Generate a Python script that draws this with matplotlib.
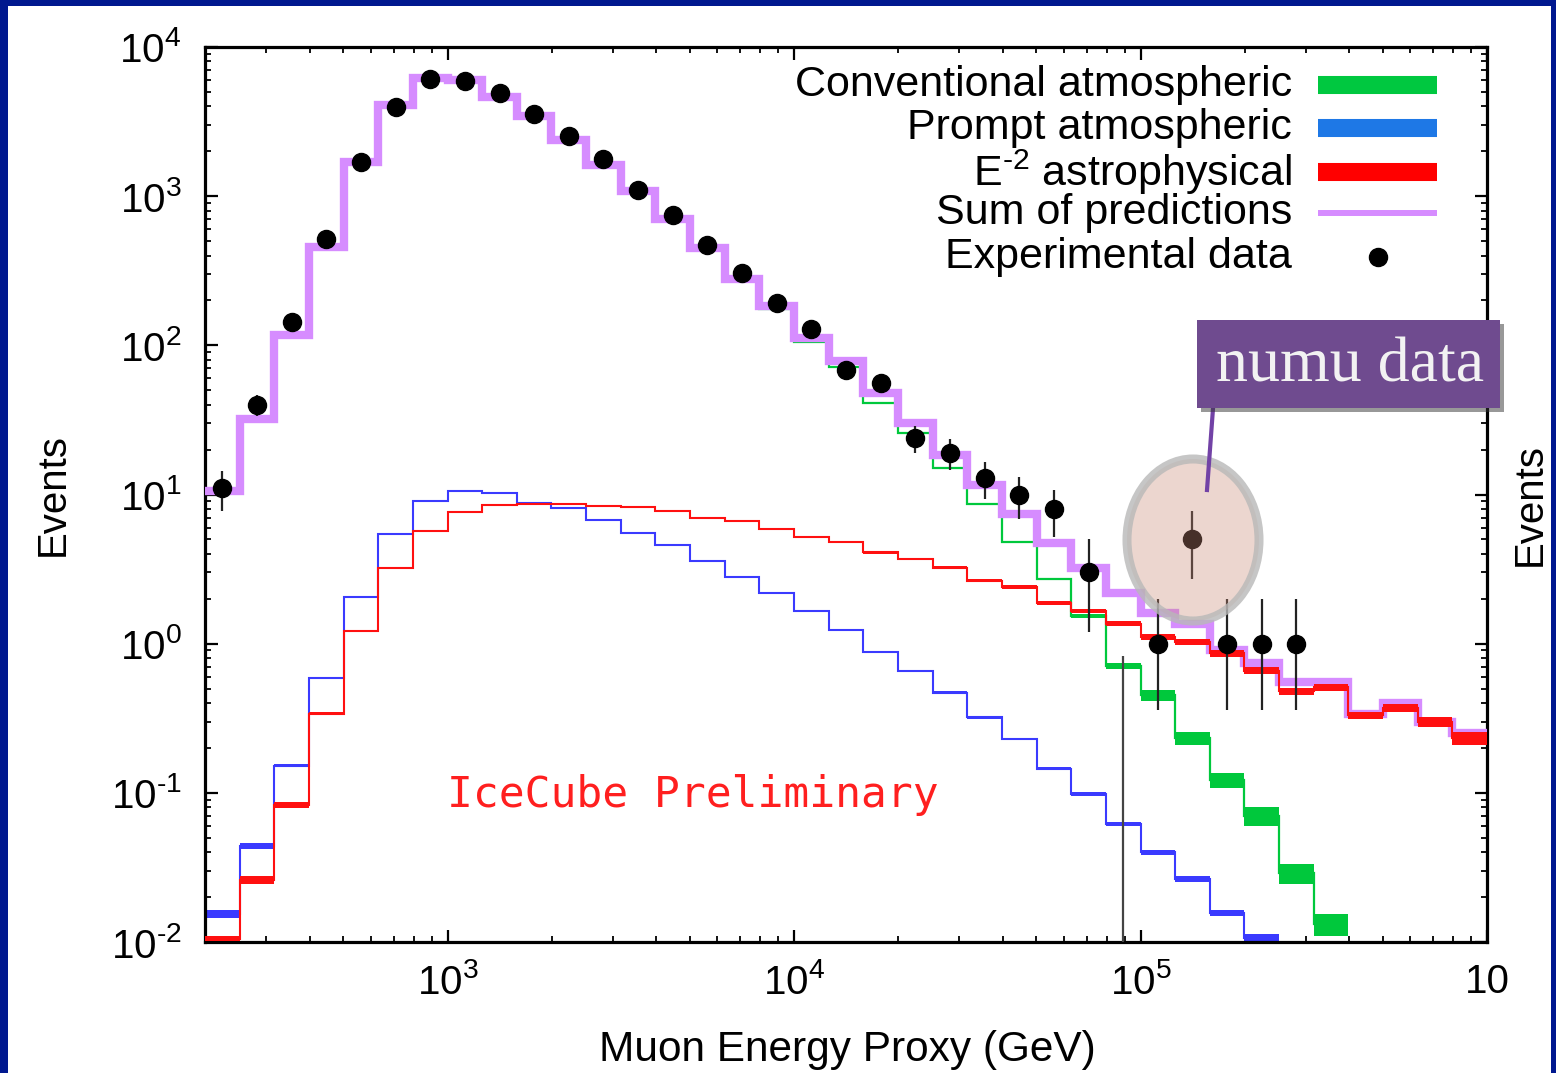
import matplotlib
matplotlib.use("Agg")
import matplotlib.pyplot as plt
import numpy as np
from matplotlib.patches import Ellipse, Rectangle
from matplotlib.lines import Line2D
from matplotlib.ticker import LogLocator, NullFormatter

plt.rcParams['font.family'] = 'Liberation Sans'
plt.rcParams['mathtext.fontset'] = 'custom'
plt.rcParams['mathtext.rm'] = 'Liberation Sans'
plt.rcParams['mathtext.it'] = 'Liberation Sans:italic'

## Data. Bins are 0.1 wide in log10(E/GeV), from 10^2.3 to 10^6.
edges = 10 ** np.arange(2.3, 6.05, 0.1)
centers = np.sqrt(edges[:-1] * edges[1:])

sum_pred = [10.6, 32, 117, 455, 1690, 4070, 6200,
            6000, 4600, 3450, 2380, 1620, 1080, 700, 450, 280, 183,
            112, 78, 48, 30, 18.3, 11.5, 7.4, 4.7, 3.2, 2.2,
            1.6, 1.36, 0.9, 0.74, 0.55, 0.55, 0.34, 0.40, 0.30, 0.25]

conventional = [10.6, 32, 117, 454, 1687, 4060, 6185,
                5982, 4582, 3433, 2364, 1605, 1066, 688, 440, 271, 175,
                105, 72, 41, 26, 15, 8.6, 4.8, 2.7, 1.54, 0.71,
                0.45, 0.234, 0.122, 0.070, 0.029, 0.0132, np.nan, np.nan, np.nan, np.nan]

prompt = [0.0155, 0.044, 0.152, 0.59, 2.07, 5.4, 9.1,
          10.5, 10.2, 8.8, 8.1, 6.7, 5.5, 4.6, 3.6, 2.82, 2.2,
          1.66, 1.24, 0.88, 0.66, 0.47, 0.32, 0.23, 0.145, 0.098, 0.062,
          0.04, 0.0265, 0.0157, 0.0107, np.nan, np.nan, np.nan, np.nan, np.nan, np.nan]

astro = [0.0105, 0.026, 0.083, 0.34, 1.22, 3.2, 5.7,
         7.6, 8.5, 8.7, 8.7, 8.4, 8.2, 7.8, 7.0, 6.6, 5.9,
         5.2, 4.8, 4.1, 3.7, 3.24, 2.65, 2.4, 1.88, 1.66, 1.36,
         1.11, 1.03, 0.86, 0.66, 0.48, 0.51, 0.33, 0.37, 0.30, 0.234]

# relative half-width of the uncertainty bands
conventional_band = [0.01] * 25 + [0.03, 0.05, 0.08, 0.10, 0.12, 0.14, 0.15, 0.17,
                                   np.nan, np.nan, np.nan, np.nan]
prompt_band = [0.06, 0.045, 0.02] + [0.01] * 18 + [0.02, 0.02, 0.02, 0.025, 0.03, 0.03,
                                                  0.035, 0.04, 0.045, 0.05] + [np.nan] * 6
astro_band = [0.04, 0.06, 0.05, 0.02] + [0.01] * 13 + [0.015, 0.015, 0.02, 0.02, 0.02, 0.025,
                                                      0.025, 0.03, 0.035, 0.04, 0.04, 0.045,
                                                      0.05, 0.05, 0.055, 0.06, 0.06, 0.065,
                                                      0.08, 0.10]

data = [11, 40, 143, 515, 1700, 3970, 6100,
        5900, 4900, 3550, 2530, 1780, 1100, 745, 470, 305, 193,
        129, 68, 56, 24, 19, 13, 10, 8, 3, np.nan,
        1, 5, 1, 1, 1]
data_err_lo = [3.3, 6.3, 12, 23, 41, 63, 78, 77, 70, 60, 50, 42, 33, 27, 22, 17, 14,
               11, 8.2, 7.5, 4.9, 4.4, 3.6, 3.2, 2.8, 1.8, np.nan, 0.64, 2.3, 0.64, 0.64, 0.64]
data_err_hi = [3.3, 6.3, 12, 23, 41, 63, 78, 77, 70, 60, 50, 42, 33, 27, 22, 17, 14,
               11, 8.2, 7.5, 4.9, 4.4, 3.6, 3.2, 2.8, 2.0, np.nan, 1.0, 2.8, 1.0, 1.0, 1.0]
zero_bin_index = 26
zero_bin_upper = 0.83

y_ticks = [1e-2, 1e-1, 1e0, 1e1, 1e2, 1e3, 1e4]
y_tick_labels = [r'$10^{\text{-}2}$', r'$10^{\text{-}1}$', '$10^{0}$', '$10^{1}$',
                 '$10^{2}$', '$10^{3}$', '$10^{4}$']
x_ticks = [1e3, 1e4, 1e5, 1e6]
x_tick_labels = ['$10^{3}$', '$10^{4}$', '$10^{5}$', '10']

legend_labels = ['Conventional atmospheric', 'Prompt atmospheric',
                 r'E$^{\text{-}2}$ astrophysical', 'Sum of predictions', 'Experimental data']

C_GREEN = '#00c83c'
C_BLUE = '#3a3aff'
C_RED = '#ff1010'
C_PURPLE = '#d68cff'


def draw_band(ax, values, band, color, lw, z):
    """Stepped histogram line with a filled uncertainty band around it."""
    values = np.asarray(values, dtype=float)
    band = np.asarray(band, dtype=float)
    n = int(np.sum(~np.isnan(values)))
    v = values[:n]
    b = band[:n]
    e = edges[:n + 1]
    ax.stairs(v * (1 + b), e, baseline=v * (1 - b), fill=True, color=color, lw=0, zorder=z)
    ax.stairs(v, e, baseline=None, color=color, lw=lw, zorder=z)


## Figure with slide border.
fig = plt.figure(figsize=(15.56, 10.73), dpi=100, facecolor='#00188f')
fig.add_artist(Rectangle((8 / 1556, 0), 1543 / 1556, 1067 / 1073, transform=fig.transFigure,
                         facecolor='white', edgecolor='none', zorder=-10))

ax = fig.add_axes([205 / 1556, 1 - 942 / 1073, 1282 / 1556, 895 / 1073])
ax.set_xscale('log')
ax.set_yscale('log')
ax.set_xlim(edges[0], edges[-1])
ax.set_ylim(1e-2, 1e4)

draw_band(ax, conventional, conventional_band, C_GREEN, 1.6, 2)
draw_band(ax, prompt, prompt_band, C_BLUE, 1.5, 2.5)
ax.stairs(sum_pred, edges, baseline=None, color=C_PURPLE, lw=6, zorder=3)
draw_band(ax, astro, astro_band, C_RED, 1.5, 4)

ax.errorbar(centers[:len(data)], data, yerr=[data_err_lo, data_err_hi], fmt='o', color='black',
            ms=13, elinewidth=1.6, ecolor='#222222', capsize=0, zorder=6)
ax.vlines(centers[zero_bin_index], 1e-3, zero_bin_upper, color='#444444', lw=1.6, zorder=6)

## Axes styling.
ax.set_xticks(x_ticks)
ax.set_xticklabels(x_tick_labels)
ax.set_yticks(y_ticks)
ax.set_yticklabels(y_tick_labels)
ax.xaxis.set_minor_locator(LogLocator(base=10, subs=range(2, 10), numticks=20))
ax.yaxis.set_minor_locator(LogLocator(base=10, subs=range(2, 10), numticks=20))
ax.xaxis.set_minor_formatter(NullFormatter())
ax.yaxis.set_minor_formatter(NullFormatter())
ax.tick_params(which='both', direction='in', top=True, right=True, colors='black')
ax.tick_params(which='major', length=9, width=1.6, labelsize=29)
ax.tick_params(which='minor', length=4.5, width=1.3)
ax.tick_params(axis='y', which='major', pad=17)
ax.tick_params(axis='x', which='major', pad=15)
for s in ax.spines.values():
    s.set_linewidth(2.3)

ax.set_xlabel('Muon Energy Proxy (GeV)', fontsize=30.5)
ax.set_ylabel('Events', fontsize=29)
ax.xaxis.set_label_coords(0.5008, -0.098)
ax.yaxis.set_label_coords(-0.1037, 0.5)

## Legend (drawn by hand so the labels are right aligned).
legend_rows = [0.9575, 0.9095, 0.860, 0.8145, 0.765]
legend_colors = ['#00c840', '#1e78e6', '#ff0000']
for y, lab in zip(legend_rows, legend_labels):
    ax.text(0.848, y, lab, transform=ax.transAxes, ha='right', va='center', fontsize=31)
for y, c in zip(legend_rows[:3], legend_colors):
    ax.add_line(Line2D([0.868, 0.961], [y, y], transform=ax.transAxes, lw=13, color=c,
                       solid_capstyle='butt'))
ax.add_line(Line2D([0.868, 0.961], [legend_rows[3]] * 2, transform=ax.transAxes, lw=4.3,
                   color=C_PURPLE, solid_capstyle='butt'))
ax.add_line(Line2D([0.915], [legend_rows[4]], transform=ax.transAxes, marker='o', ms=13,
                   color='black', lw=0))

ax.text(0.1888, 0.164, 'IceCube Preliminary', transform=ax.transAxes, ha='left', va='center',
        fontsize=31, family='DejaVu Sans Mono', color='#ff1f1f')

## Slide annotations.
fig.add_artist(Ellipse((1193 / 1556, 1 - 540 / 1073), 132 / 1556, 162 / 1073,
                       transform=fig.transFigure, facecolor=(0.79, 0.54, 0.47, 0.35),
                       edgecolor=(0.72, 0.72, 0.72, 0.8), lw=6.5, zorder=10))
fig.add_artist(Line2D([1214 / 1556, 1207 / 1556], [1 - 395 / 1073, 1 - 490 / 1073],
                      transform=fig.transFigure, color='#7242a6', lw=3, zorder=11))
fig.add_artist(Rectangle((1201 / 1556, 1 - 412 / 1073), 303 / 1556, 88 / 1073,
                         transform=fig.transFigure, facecolor='#333333', alpha=0.5,
                         edgecolor='none', zorder=11))
fig.add_artist(Rectangle((1197 / 1556, 1 - 408 / 1073), 303 / 1556, 88 / 1073,
                         transform=fig.transFigure, facecolor='#6f4b8f', edgecolor='none',
                         zorder=12))
fig.text(1350 / 1556, 1 - 366 / 1073, 'numu data', ha='center', va='center',
         family='Liberation Serif', fontsize=46, color='#f2f2f2', zorder=13)

fig.text(1530 / 1556, 1 - 505 / 1073, 'Events', rotation=90, ha='center', va='center',
         fontsize=29)

fig.savefig('out.png', dpi=100, facecolor=fig.get_facecolor())
